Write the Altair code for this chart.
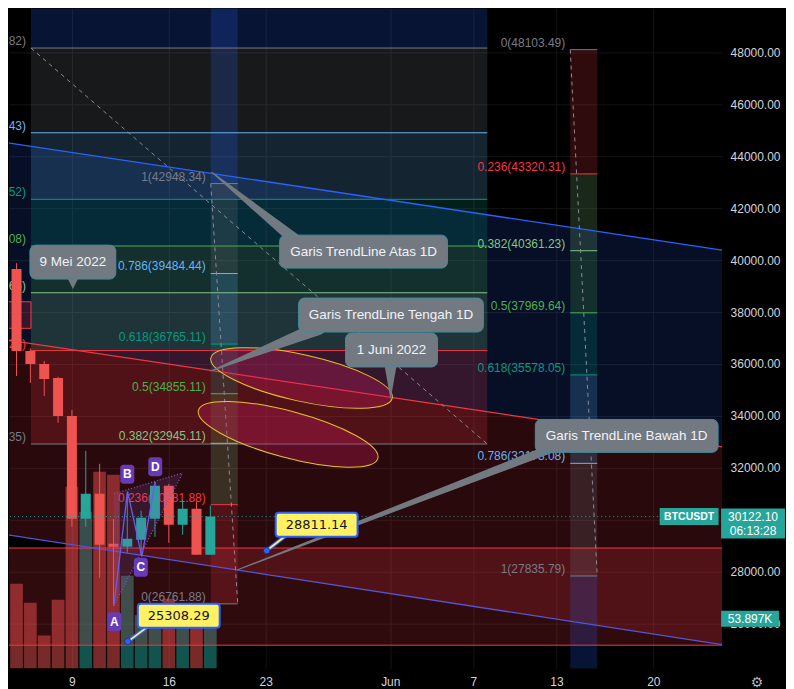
import altair as alt
import pandas as pd

# ---------------- data (days counted from 9 May 2022, prices in USDT) ----------------
candle_day = list(range(-5, 11))
candle_open = [37692, 39654, 36500, 36000, 35461, 34000, 30038, 31000, 29077, 28962, 29230, 30038, 31308, 29808, 30423, 28654]
candle_high = [40000, 39880, 36600, 36115, 35512, 34231, 32654, 32154, 30032, 31080, 30346, 31460, 31380, 30770, 30692, 30538]
candle_low = [37500, 35538, 35270, 34770, 33730, 29730, 29730, 27770, 26700, 28730, 28654, 29346, 29115, 29423, 28650, 28650]
candle_close = [39654, 36500, 36000, 35423, 34000, 30038, 31000, 29040, 28960, 29270, 30077, 31308, 29808, 30423, 28654, 30122.10]
volume_k = [67.4, 95.4, 74.1, 37.1, 77.5, 204.4, 176.3, 221.2, 217.8, 104.4, 60.0, 55.0, 78.6, 50.0, 52.0, 53.897]
symbol = "BTCUSDT"
last_price = 30122.10
countdown = "06:13:28"
last_volume = "53.897K"

x_tick_days = [0, 7, 14, 23, 29, 35, 42]
x_tick_labels = ["9", "16", "23", "Jun", "7", "13", "20"]
y_tick_prices = list(range(26000, 50001, 2000))

channel_day = [-5.12, 46.97]
channel_upper = [44558, 40385]
channel_middle = [36962, 32808]
channel_lower = [29462, 25192]

zone_day = [-5.12, 46.97]
zone_price = [25170, 28912]
small_box_day = [-6.0, -2.96]
small_box_price = [37373, 38396]

fib_levels = ["0", "0.236", "0.382", "0.5", "0.618", "0.786", "1"]
big_fib_day = [-2.96, 30.01]
big_fib_price = [32917.35, 36516.23, 38742.65, 40542.08, 42341.52, 44903.43, 48166.82, 57591.00]
mid_fib_day = [10.03, 11.98]
mid_fib_price = [26761.88, 30581.88, 32945.11, 34855.11, 36765.11, 39484.44, 42948.34, 52951.70]
right_fib_day = [36.0, 37.95]
right_fib_price = [48103.49, 43320.31, 40361.23, 37969.64, 35578.05, 32173.08, 27835.79, 15310.30]

ellipse_day = [16.59, 15.62]
ellipse_price = [35462, 33288]

abcd_name = ["A", "B", "C", "D"]
abcd_day = [3.03, 4.02, 5.05, 6.02]
abcd_price = [26692, 31088, 28577, 31462]
abcd_label_day = [3.07, 4.0, 4.98, 6.02]
abcd_label_price = [26077, 31750, 28173, 32038]
abcd_zone_day = [3.03, 8.01]
abcd_zone_top = [31000, 31808]
abcd_zone_bottom = [26692, 31808]

callout_text = ["9 Mei 2022", "Garis TrendLine Atas 1D", "Garis TrendLine Tengah 1D", "1 Juni 2022", "Garis TrendLine Bawah 1D"]
callout_day = [0.07, 21.07, 23.05, 23.09, 40.08]
callout_price = [39923, 40327, 37885, 36538, 33231]
wedge_tip_day = [10.10, 10.03, 11.98]
wedge_tip_price = [43385, 35731, 28077]
wedge_base_day = [16.16, 17.82, 34.56]
wedge_base_price = [40769, 37385, 32731]
notch_day = [0.07, 23.02]
notch_tip_price = [38885, 34615]

tag_price = [28811.14, 25308.29]
tag_day = [14.07, 4.04]
tag_label_day = [17.68, 7.72]
tag_label_price = [29808, 26308]

# ---------------- layout / style ----------------
W, H = 714, 661
X_DOMAIN = [-4.545, 46.97]
Y_DOMAIN = [24269.0, 49692.0]
VOL_DOMAIN = [0, 742.2]
PX_DAY = W / (X_DOMAIN[1] - X_DOMAIN[0])
PX_PRICE = H / (Y_DOMAIN[1] - Y_DOMAIN[0])


def dd(px):
    return px / PX_DAY


def dp(px):
    return px / PX_PRICE


FONT = "Liberation Sans"
FIB_COLORS = ["#787b86", "#f23645", "#81c784", "#4caf50", "#089981", "#64b5f6", "#787b86", "#2962ff"]
UP, DOWN = "#26a69a", "#ef5350"

xs = alt.Scale(domain=X_DOMAIN, nice=False, zero=False, padding=0)
ys = alt.Scale(domain=Y_DOMAIN, nice=False, zero=False, padding=0)
label_expr = "".join(f"datum.value == {d} ? '{l}' : " for d, l in zip(x_tick_days, x_tick_labels)) + "''"
x_axis = alt.Axis(values=x_tick_days, labelExpr=label_expr, ticks=False, domain=False, grid=True,
                  gridColor="#141414", labelColor="#d1d4dc", labelFont=FONT, labelFontSize=12,
                  labelPadding=8, labelOverlap=False, title=None)
y_axis = alt.Axis(orient="right", values=y_tick_prices, format=".2f", ticks=False, domain=False, grid=True,
                  gridColor="#141414", labelColor="#d1d4dc", labelFont=FONT, labelFontSize=12,
                  labelPadding=8, labelOverlap=False, title=None)


def X(f):
    return alt.X(f"{f}:Q", scale=xs, axis=x_axis)


def Y(f, axis=True):
    return alt.Y(f"{f}:Q", scale=ys, axis=y_axis if axis else None)


def X2(f):
    return alt.X2(f"{f}:Q")


def Y2(f):
    return alt.Y2(f"{f}:Q")


NC = alt.Color("c:N", scale=None)


def box_df(days, prices, w, h, extra=None):
    rows = []
    for i, (d, p) in enumerate(zip(days, prices)):
        ww = w[i] if isinstance(w, list) else w
        hh = h[i] if isinstance(h, list) else h
        r = dict(d1=d - dd(ww / 2), d2=d + dd(ww / 2), p1=p - dp(hh / 2), p2=p + dp(hh / 2), d=d, p=p)
        if extra:
            for k, v in extra.items():
                r[k] = v[i]
        rows.append(r)
    return pd.DataFrame(rows)


# ---------------- volume (drawn first, under the drawings) ----------------
cdf = pd.DataFrame({"d": candle_day, "o": candle_open, "hi": candle_high, "lo": candle_low,
                    "cl": candle_close, "vol": volume_k})
cdf["c"] = [UP if c >= o else DOWN for o, c in zip(candle_open, candle_close)]
vol = alt.Chart(cdf).mark_bar(size=12.7, opacity=0.5, orient="vertical", clip=True).encode(
    x=X("d"), y=alt.Y("vol:Q", scale=alt.Scale(domain=VOL_DOMAIN, nice=False, zero=True, padding=0), axis=None),
    color=NC)

# ---------------- fills ----------------
chan_df = pd.DataFrame({"d": channel_day, "up": channel_upper, "mid": channel_middle, "lo": channel_lower})
fill_up = alt.Chart(chan_df).mark_area(color="#2962ff", opacity=0.15, clip=True).encode(
    x=X("d"), y=Y("up", False), y2=Y2("mid"))
fill_lo = alt.Chart(chan_df).mark_area(color="#f23645", opacity=0.17, clip=True).encode(
    x=X("d"), y=Y("mid", False), y2=Y2("lo"))
zone_df = pd.DataFrame({"d1": [zone_day[0]], "d2": [zone_day[1]], "p1": [zone_price[0]], "p2": [zone_price[1]]})
zone = alt.Chart(zone_df).mark_rect(color="#f23645", opacity=0.2, clip=True).encode(
    x=X("d1"), x2=X2("d2"), y=Y("p1", False), y2=Y2("p2"))
small_df = pd.DataFrame({"d1": [small_box_day[0]], "d2": [small_box_day[1]],
                         "p1": [small_box_price[0]], "p2": [small_box_price[1]]})
small = alt.Chart(small_df).mark_rect(fill="#f23645", fillOpacity=0.2, stroke="#f23645", strokeWidth=1,
                                      clip=True).encode(x=X("d1"), x2=X2("d2"), y=Y("p1", False), y2=Y2("p2"))

fibs = [("big", big_fib_day, big_fib_price, (6, 0)),
        ("mid", mid_fib_day, mid_fib_price, (6, 0)),
        ("right", right_fib_day, right_fib_price, (0, 6))]
fill_rows, line_rows, trend_rows = [], [], []
for name, days, prices, (a, b) in fibs:
    for i in range(1, len(prices)):
        fill_rows.append(dict(d1=days[0], d2=days[1], p1=prices[i - 1], p2=prices[i], c=FIB_COLORS[i]))
    for i, lvl in enumerate(fib_levels):
        line_rows.append(dict(d1=days[0], d2=days[1], p=prices[i], c=FIB_COLORS[i],
                              t=f"{lvl}({prices[i]:.2f})", ld=days[0] - dd(5)))
    trend_rows.append(dict(n=name, d=days[0], p=prices[a]))
    trend_rows.append(dict(n=name, d=days[1], p=prices[b]))
fib_fill = alt.Chart(pd.DataFrame(fill_rows)).mark_rect(opacity=0.2, clip=True).encode(
    x=X("d1"), x2=X2("d2"), y=Y("p1", False), y2=Y2("p2"), color=NC)

bottom = alt.layer(fill_up, fill_lo, zone, small, fib_fill)

# ---------------- lines, candles, annotations ----------------
ldf = pd.DataFrame(line_rows)
fib_lines = alt.Chart(ldf).mark_rule(strokeWidth=1, clip=True).encode(
    x=X("d1"), x2=X2("d2"), y=Y("p"), color=NC)
fib_text = alt.Chart(ldf).mark_text(align="right", baseline="middle", dy=-7, font=FONT, fontSize=12,
                                    clip=True).encode(x=X("ld"), y=Y("p"), text="t:N", color=NC)
zone_lines = alt.Chart(pd.DataFrame({"p": zone_price})).mark_rule(color="#f23645", strokeWidth=1).encode(y=Y("p"))

chan_long = pd.DataFrame(
    [dict(n="up", d=d, p=p, c="#2962ff") for d, p in zip(channel_day, channel_upper)] +
    [dict(n="mid", d=d, p=p, c="#f23645") for d, p in zip(channel_day, channel_middle)] +
    [dict(n="lo", d=d, p=p, c="#5454d8") for d, p in zip(channel_day, channel_lower)])
chan_lines = alt.Chart(chan_long).mark_line(strokeWidth=1.3, clip=True).encode(
    x=X("d"), y=Y("p"), color=NC, detail="n:N")
fib_trend = alt.Chart(pd.DataFrame(trend_rows)).mark_line(strokeDash=[4, 4], color="#8a8d96", strokeWidth=1,
                                                          clip=True).encode(x=X("d"), y=Y("p"), detail="n:N")

wicks = alt.Chart(cdf).mark_rule(strokeWidth=1, clip=True).encode(x=X("d"), y=Y("lo"), y2=Y2("hi"), color=NC)
bodies = alt.Chart(cdf).mark_bar(size=10, orient="vertical", clip=True).encode(
    x=X("d"), y=Y("o"), y2=Y2("cl"), color=NC)
price_line = alt.Chart(pd.DataFrame({"p": [last_price]})).mark_rule(
    color="#26a69a", strokeDash=[1, 3], strokeWidth=1).encode(y=Y("p"))

ELLIPSE = "M-1,0A1,0.25,0,1,0,1,0A1,0.25,0,1,0,-1,0Z"
ellipses = []
for i, ang in enumerate([12.5, 15]):
    edf = pd.DataFrame({"d": [ellipse_day[i]], "p": [ellipse_price[i]]})
    ellipses.append(alt.Chart(edf).mark_point(
        shape=ELLIPSE, size=186 ** 2, angle=ang, filled=True, fill="#d81b60", fillOpacity=0.3,
        stroke="#e8c22a", strokeWidth=1, strokeOpacity=1, opacity=1, clip=True).encode(x=X("d"), y=Y("p")))

abcd_zone = alt.Chart(pd.DataFrame({"d": abcd_zone_day, "t": abcd_zone_top, "b": abcd_zone_bottom})).mark_area(
    color="#7e57c2", opacity=0.18, clip=True).encode(x=X("d"), y=Y("t"), y2=Y2("b"))
abcd_dot_df = pd.DataFrame([
    dict(n="e1", d=abcd_zone_day[0], p=abcd_zone_bottom[0]), dict(n="e1", d=abcd_zone_day[1], p=abcd_zone_bottom[1]),
    dict(n="e2", d=abcd_zone_day[0], p=abcd_zone_top[0]), dict(n="e2", d=abcd_zone_day[1], p=abcd_zone_top[1])])
abcd_dots = alt.Chart(abcd_dot_df).mark_line(strokeDash=[1, 2], color="#7e57c2", strokeWidth=1.2,
                                             clip=True).encode(x=X("d"), y=Y("p"), detail="n:N")
abcd_path = alt.Chart(pd.DataFrame({"d": abcd_day, "p": abcd_price, "i": range(4)})).mark_line(
    color="#6c5ce7", strokeWidth=1.3, clip=True).encode(x=X("d"), y=Y("p"), order="i:Q")
abcd_boxes_df = box_df(abcd_label_day, abcd_label_price, 14, 19, {"t": abcd_name})
abcd_boxes = alt.Chart(abcd_boxes_df).mark_rect(color="#673ab7", cornerRadius=3, clip=True).encode(
    x=X("d1"), x2=X2("d2"), y=Y("p1"), y2=Y2("p2"))
abcd_text = alt.Chart(abcd_boxes_df).mark_text(font=FONT, fontSize=12, fontWeight="bold", color="#ffffff",
                                               clip=True).encode(x=X("d"), y=Y("p"), text="t:N")

CALLOUT = "#737980"
wedge_rows = []
for i in range(3):
    wedge_rows.append(dict(n=i, d=wedge_tip_day[i], p=wedge_tip_price[i], s=1))
    wedge_rows.append(dict(n=i, d=wedge_base_day[i], p=wedge_base_price[i], s=[12, 14, 9][i]))
wedges = alt.Chart(pd.DataFrame(wedge_rows)).mark_trail(color=CALLOUT, clip=True).encode(
    x=X("d"), y=Y("p"), size=alt.Size("s:Q", scale=None), detail="n:N")
notch1 = alt.Chart(pd.DataFrame({"d": [notch_day[0]], "p": [notch_tip_price[0] + dp(6)]})).mark_point(
    shape="M-1,-1L1,-1L0,1Z", size=144, filled=True, color=CALLOUT, opacity=1, clip=True).encode(x=X("d"), y=Y("p"))
notch2 = alt.Chart(pd.DataFrame({"d": [notch_day[1]], "p": [notch_tip_price[1] + dp(20)]})).mark_point(
    shape="M-0.35,-1L0.35,-1L0,1Z", size=1600, filled=True, color=CALLOUT, opacity=1, clip=True).encode(
    x=X("d"), y=Y("p"))
cbox_df = box_df(callout_day, callout_price, [86, 168, 185, 92, 183], [34, 33, 34, 34, 33], {"t": callout_text})
cboxes = alt.Chart(cbox_df).mark_rect(fill=CALLOUT, stroke="#3d8fa0", strokeWidth=1, cornerRadius=6,
                                      clip=True).encode(x=X("d1"), x2=X2("d2"), y=Y("p1"), y2=Y2("p2"))
ctext = alt.Chart(cbox_df).mark_text(font=FONT, fontSize=13.5, color="#f0f3fa", clip=True).encode(
    x=X("d"), y=Y("p"), text="t:N")

tag_box_df = box_df(tag_label_day, tag_label_price, 82, 24, {"t": [f"{v:.2f}" for v in tag_price]})
conn_rows = []
for i in range(2):
    conn_rows.append(dict(n=i, d=tag_day[i], p=tag_price[i]))
    conn_rows.append(dict(n=i, d=tag_label_day[i] - dd(31), p=tag_label_price[i] - dp(11)))
conn_df = pd.DataFrame(conn_rows)
conn_outer = alt.Chart(conn_df).mark_line(color="#2962ff", strokeWidth=4, clip=True).encode(
    x=X("d"), y=Y("p"), detail="n:N")
conn_inner = alt.Chart(conn_df).mark_line(color="#fff064", strokeWidth=1.8, clip=True).encode(
    x=X("d"), y=Y("p"), detail="n:N")
tag_dots = alt.Chart(pd.DataFrame({"d": tag_day, "p": tag_price})).mark_circle(
    size=40, color="#2962ff", opacity=1, stroke="#0b1a4a", strokeWidth=0.5, clip=True).encode(x=X("d"), y=Y("p"))
tag_boxes = alt.Chart(tag_box_df).mark_rect(fill="#fff064", stroke="#2962ff", strokeWidth=2, cornerRadius=3,
                                            clip=True).encode(x=X("d1"), x2=X2("d2"), y=Y("p1"), y2=Y2("p2"))
tag_text = alt.Chart(tag_box_df).mark_text(font="DejaVu Sans", fontSize=13, color="#131722", clip=True).encode(
    x=X("d"), y=Y("p"), text="t:N")

# price-scale labels
sym_df = box_df([X_DOMAIN[1] - dd(33)], [last_price], 59, 17, {"t": [symbol]})
sym_box = alt.Chart(sym_df).mark_rect(color="#26a69a", clip=False).encode(
    x=X("d1"), x2=X2("d2"), y=Y("p1"), y2=Y2("p2"))
sym_text = alt.Chart(sym_df).mark_text(font=FONT, fontSize=10.5, fontWeight="bold", color="#ffffff",
                                       clip=False).encode(x=X("d"), y=Y("p"), text="t:N")
pb_df = pd.DataFrame({"d1": [X_DOMAIN[1] - dd(1)], "d2": [X_DOMAIN[1] + dd(63)],
                      "p1": [last_price - dp(22)], "p2": [last_price + dp(8)]})
pbox = alt.Chart(pb_df).mark_rect(color="#26a69a", clip=False).encode(
    x=X("d1"), x2=X2("d2"), y=Y("p1"), y2=Y2("p2"))
pt_df = pd.DataFrame({"d": [X_DOMAIN[1] + dd(31), X_DOMAIN[1] + dd(31)],
                      "p": [last_price, last_price - dp(14.5)],
                      "t": [f"{last_price:.2f}", countdown]})
ptext = alt.Chart(pt_df).mark_text(font=FONT, fontSize=12, color="#ffffff", clip=False).encode(
    x=X("d"), y=Y("p"), text="t:N")
vb_df = box_df([X_DOMAIN[1] + dd(28)], [26192], 58, 16, {"t": [last_volume]})
vbox = alt.Chart(vb_df).mark_rect(color="#26a69a", clip=False).encode(
    x=X("d1"), x2=X2("d2"), y=Y("p1"), y2=Y2("p2"))
vtext = alt.Chart(vb_df).mark_text(font=FONT, fontSize=12, color="#ffffff", clip=False).encode(
    x=X("d"), y=Y("p"), text="t:N")
gear = alt.Chart(pd.DataFrame({"d": [X_DOMAIN[1] + dd(35)], "p": [Y_DOMAIN[0] - dp(14)], "t": ["\u2699"]})).mark_text(
    font="DejaVu Sans", fontSize=14, color="#b2b5be", clip=False).encode(x=X("d"), y=Y("p"), text="t:N")

top = alt.layer(fib_lines, zone_lines, chan_lines, fib_trend, fib_text, wicks, bodies, price_line,
                *ellipses, abcd_zone, abcd_dots, abcd_path, abcd_boxes, abcd_text,
                wedges, notch1, notch2, cboxes, ctext,
                conn_outer, conn_inner, tag_dots, tag_boxes, tag_text,
                sym_box, sym_text, pbox, ptext, vbox, vtext, gear)

chart = alt.layer(vol, bottom, top).resolve_scale(y="independent").properties(
    width=W, height=H, padding=0, background="#000000"
).configure_view(stroke=None)

chart.save("out.html", embed_options={"renderer": "svg", "actions": False})
